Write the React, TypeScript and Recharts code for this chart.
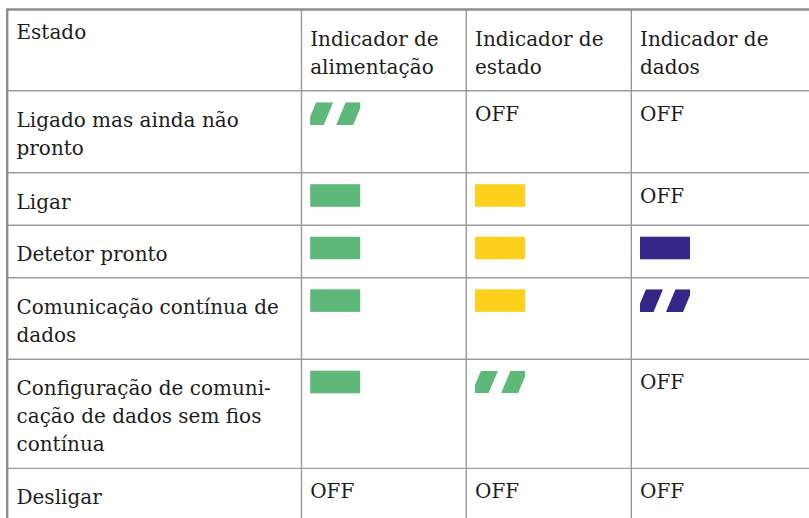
import React from 'react';
import { ScatterChart, Scatter, XAxis, YAxis, ReferenceLine } from 'recharts';

// ---- content ----
const HEADERS: string[][] = [
  ['Estado'],
  ['Indicador de', 'alimentação'],
  ['Indicador de', 'estado'],
  ['Indicador de', 'dados'],
];
const STATES: string[][] = [
  ['Ligado mas ainda não', 'pronto'],
  ['Ligar'],
  ['Detetor pronto'],
  ['Comunicação contínua de', 'dados'],
  ['Configuração de comuni-', 'cação de dados sem fios', 'contínua'],
  ['Desligar'],
];
// indicator colour per state row ('off' = not lit)
const POWER_COLOR = ['green', 'green', 'green', 'green', 'green', 'off'];
const POWER_MODE = ['blink', 'solid', 'solid', 'solid', 'solid', 'off'];
const STATUS_COLOR = ['off', 'yellow', 'yellow', 'yellow', 'green', 'off'];
const STATUS_MODE = ['off', 'solid', 'solid', 'solid', 'blink', 'off'];
const DATA_COLOR = ['off', 'off', 'blue', 'blue', 'off', 'off'];
const DATA_MODE = ['off', 'off', 'solid', 'blink', 'off', 'off'];
const OFF_LABEL = 'OFF';

// ---- layout / style ----
const W = 809;
const H = 518;
const COL_EDGES = [7.2, 301.5, 466.3, 631.3];
const ROW_EDGES = [9.5, 90.8, 172.7, 225.2, 277.8, 359.2, 468.4];
const PALETTE: Record<string, string> = { green: '#5db87a', yellow: '#fdd01c', blue: '#33288a' };
const FONT = "'DejaVu Serif', serif";
const FONT_SIZE = 20;
const LINE_H = 28;
const TEXT_COLOR = '#1d1d1b';
const GRID = '#9b9b9b';
const BORDER = '#8e8e8e';

const LED_COLS = [
  { color: POWER_COLOR, mode: POWER_MODE },
  { color: STATUS_COLOR, mode: STATUS_MODE },
  { color: DATA_COLOR, mode: DATA_MODE },
];

type TextPoint = { x: number; y: number; col: number; row: number; lines: string[] };
type LedPoint = { x: number; y: number; col: number; row: number; mode: string; color: string };

const textData: TextPoint[] = [];
HEADERS.forEach((lines, c) => textData.push({ x: COL_EDGES[c], y: ROW_EDGES[0], col: c, row: 0, lines }));
STATES.forEach((lines, r) => {
  textData.push({ x: COL_EDGES[0], y: ROW_EDGES[r + 1], col: 0, row: r + 1, lines });
  LED_COLS.forEach((c, i) => {
    if (c.mode[r] === 'off') {
      textData.push({ x: COL_EDGES[i + 1], y: ROW_EDGES[r + 1], col: i + 1, row: r + 1, lines: [OFF_LABEL] });
    }
  });
});

const ledData: LedPoint[] = [];
LED_COLS.forEach((c, i) =>
  c.mode.forEach((mode, r) => {
    if (mode !== 'off')
      ledData.push({ x: COL_EDGES[i + 1], y: ROW_EDGES[r + 1], col: i + 1, row: r + 1, mode, color: c.color[r] });
  })
);

const TextShape = (props: any) => {
  const { cx, cy, payload } = props;
  const p = payload as TextPoint;
  const dx = p.col === 0 ? 9.3 : 8.7;
  let dy: number;
  if (p.row === 0) dy = p.col === 0 ? 29.8 : 36.5;
  else dy = p.col === 0 ? 35.8 : 29.8;
  const x = cx + dx;
  return (
    <text fontFamily={FONT} fontSize={FONT_SIZE} fill={TEXT_COLOR}>
      {p.lines.map((l, i) => (
        <tspan key={i} x={x} y={cy + dy + i * LINE_H}>
          {l}
        </tspan>
      ))}
    </text>
  );
};

const LED_W = 50;
const LED_H = 22.6;

const LedShape = (props: any) => {
  const { cx, cy, payload } = props;
  const p = payload as LedPoint;
  const x0 = cx + 8.7;
  const y0 = cy + 11.5;
  const fill = PALETTE[p.color];
  if (p.mode === 'solid') {
    return <rect x={x0} y={y0} width={LED_W} height={LED_H} fill={fill} />;
  }
  const id = `clip-${p.row}-${p.col}`;
  const period = 29.5;
  const bw = 17;
  const shift = 9.5;
  const start = 6;
  const bands = [-1, 0, 1, 2].map((k) => {
    const tl = x0 + start + k * period;
    return `${tl},${y0} ${tl + bw},${y0} ${tl + bw - shift},${y0 + LED_H} ${tl - shift},${y0 + LED_H}`;
  });
  return (
    <g>
      <defs>
        <clipPath id={id}>
          <rect x={x0} y={y0} width={LED_W} height={LED_H} />
        </clipPath>
      </defs>
      <g clipPath={`url(#${id})`}>
        {bands.map((pts, i) => (
          <polygon key={i} points={pts} fill={fill} />
        ))}
      </g>
    </g>
  );
};

export default function App() {
  return (
    <div style={{ position: 'absolute', left: 0, top: 0, width: W, height: H, background: '#fff' }}>
      <ScatterChart width={W} height={H} margin={{ top: 0, right: 0, bottom: 0, left: 0 }}>
        <XAxis type="number" dataKey="x" domain={[0, W]} hide allowDataOverflow />
        <YAxis type="number" dataKey="y" domain={[0, H]} reversed hide allowDataOverflow />
        {COL_EDGES.slice(1).map((e) => (
          <ReferenceLine
            key={`v${e}`}
            segment={[{ x: e, y: ROW_EDGES[0] }, { x: e, y: H }]}
            stroke={GRID}
            strokeWidth={1.4}
            ifOverflow="visible"
          />
        ))}
        {ROW_EDGES.slice(1).map((e) => (
          <ReferenceLine
            key={`h${e}`}
            segment={[{ x: COL_EDGES[0], y: e }, { x: W, y: e }]}
            stroke={GRID}
            strokeWidth={1.4}
            ifOverflow="visible"
          />
        ))}
        <ReferenceLine
          segment={[{ x: COL_EDGES[0] - 1.2, y: ROW_EDGES[0] }, { x: W, y: ROW_EDGES[0] }]}
          stroke={BORDER}
          strokeWidth={2.4}
          ifOverflow="visible"
        />
        <ReferenceLine
          segment={[{ x: COL_EDGES[0], y: ROW_EDGES[0] }, { x: COL_EDGES[0], y: H }]}
          stroke={BORDER}
          strokeWidth={2.4}
          ifOverflow="visible"
        />
        <Scatter data={ledData} shape={LedShape} isAnimationActive={false} />
        <Scatter data={textData} shape={TextShape} isAnimationActive={false} />
      </ScatterChart>
    </div>
  );
}
